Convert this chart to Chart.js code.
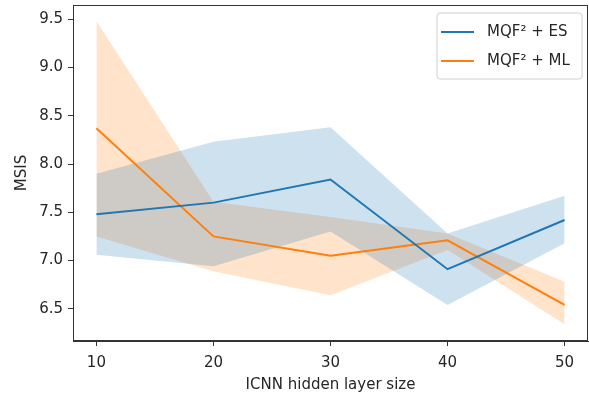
<!DOCTYPE html>
<html>
<head>
<meta charset="utf-8">
<script src="https://cdn.jsdelivr.net/npm/chart.js@4.4.1/dist/chart.umd.min.js"></script>
<style>
  html, body { margin: 0; padding: 0; background: #fff; }
  #wrap { width: 589px; height: 394px; position: relative; }
</style>
</head>
<body>
<div id="wrap"><canvas id="msisChart" width="589" height="394"></canvas></div>
<script>
// hidden layer sizes on the x axis
var sizes = [10, 20, 30, 40, 50];

// MQF2 + ES: mean and band
var esMean  = [7.48, 7.60, 7.84, 6.91, 7.42];
var esUpper = [7.90, 8.23, 8.38, 7.28, 7.67];
var esLower = [7.06, 6.94, 7.30, 6.54, 7.18];

// MQF2 + ML: mean and band
var mlMean  = [8.37, 7.25, 7.05, 7.21, 6.54];
var mlUpper = [9.48, 7.61, 7.45, 7.28, 6.78];
var mlLower = [7.25, 6.89, 6.64, 7.11, 6.34];

var xTicks = [10, 20, 30, 40, 50];
var yTicks = [6.5, 7.0, 7.5, 8.0, 8.5, 9.0, 9.5];

var labelEs = "MQF\u00b2 + ES";
var labelMl = "MQF\u00b2 + ML";

var blue = "#1f77b4";
var orange = "#ff7f0e";
var font = "'DejaVu Sans', sans-serif";

function pts(vals) {
    return vals.map(function(v, i) { return { x: sizes[i], y: v }; });
}

function band(vals, color, fill) {
    return {
        data: pts(vals),
        borderWidth: 0,
        pointRadius: 0,
        backgroundColor: color,
        fill: fill
    };
}

// box around the plot area plus a legend in the upper right
var frame = {
    id: "frame",
    afterDraw: function(chart) {
        var ctx = chart.ctx;
        var a = chart.chartArea;
        ctx.save();
        ctx.strokeStyle = "#333";
        ctx.lineWidth = 1;
        ctx.strokeRect(a.left + 0.5, a.top + 0.5, a.right - a.left - 1, a.bottom - a.top - 1);

        var lx = 437, ly = 13, lw = 145, lh = 66, r = 3;
        ctx.beginPath();
        ctx.moveTo(lx + r, ly);
        ctx.arcTo(lx + lw, ly, lx + lw, ly + lh, r);
        ctx.arcTo(lx + lw, ly + lh, lx, ly + lh, r);
        ctx.arcTo(lx, ly + lh, lx, ly, r);
        ctx.arcTo(lx, ly, lx + lw, ly, r);
        ctx.closePath();
        ctx.fillStyle = "rgba(255,255,255,0.8)";
        ctx.fill();
        ctx.strokeStyle = "#d0d0d0";
        ctx.stroke();

        var items = [[labelEs, blue, 32], [labelMl, orange, 61]];
        ctx.font = "15px " + font;
        ctx.textBaseline = "middle";
        items.forEach(function(it) {
            ctx.strokeStyle = it[1];
            ctx.lineWidth = 2;
            ctx.beginPath();
            ctx.moveTo(441, it[2]);
            ctx.lineTo(474, it[2]);
            ctx.stroke();
            ctx.fillStyle = "#262626";
            ctx.fillText(it[0], 487, it[2]);
        });
        ctx.restore();
    }
};

var ctx = document.getElementById("msisChart");
var chart = new Chart(ctx, {
    type: "line",
    data: {
        datasets: [
            band(esUpper, "rgba(31,119,180,0.22)", "+1"),
            band(esLower, "rgba(31,119,180,0.22)", false),
            band(mlUpper, "rgba(255,127,14,0.22)", "+1"),
            band(mlLower, "rgba(255,127,14,0.22)", false),
            { label: labelEs, data: pts(esMean), borderColor: blue, borderWidth: 2, pointRadius: 0, fill: false },
            { label: labelMl, data: pts(mlMean), borderColor: orange, borderWidth: 2, pointRadius: 0, fill: false }
        ]
    },
    options: {
        responsive: false,
        animation: false,
        layout: { padding: { top: 5, right: 1, left: 0, bottom: 0 } },
        elements: { line: { tension: 0 } },
        plugins: {
            legend: { display: false },
            tooltip: { enabled: false },
            filler: { drawTime: "beforeDatasetsDraw" }
        },
        scales: {
            x: {
                type: "linear",
                min: 8,
                max: 52,
                afterBuildTicks: function(axis) {
                    axis.ticks = xTicks.map(function(v) { return { value: v }; });
                },
                afterFit: function(axis) {
                    axis.height = 53;
                    axis.paddingLeft = 0;
                    axis.paddingRight = 0;
                },
                grid: { drawOnChartArea: false, tickLength: 5, color: "#333" },
                border: { color: "#333" },
                ticks: { color: "#262626", font: { family: font, size: 15 }, padding: 8, maxRotation: 0 },
                title: { display: true, text: "ICNN hidden layer size", color: "#262626",
                         font: { family: font, size: 15 }, padding: { top: 8, bottom: 0 } }
            },
            y: {
                min: 6.166,
                max: 9.648,
                afterBuildTicks: function(axis) {
                    axis.ticks = yTicks.map(function(v) { return { value: v }; });
                },
                afterFit: function(axis) {
                    axis.width = 73;
                    axis.paddingTop = 0;
                    axis.paddingBottom = 0;
                },
                grid: { drawOnChartArea: false, tickLength: 5, color: "#333" },
                border: { color: "#333" },
                ticks: { color: "#262626", font: { family: font, size: 15 }, padding: 5,
                         callback: function(v) { return v.toFixed(1); } },
                title: { display: true, text: "MSIS", color: "#262626",
                         font: { family: font, size: 15 }, padding: { top: 13, bottom: 0 } }
            }
        }
    },
    plugins: [frame]
});
</script>
</body>
</html>
